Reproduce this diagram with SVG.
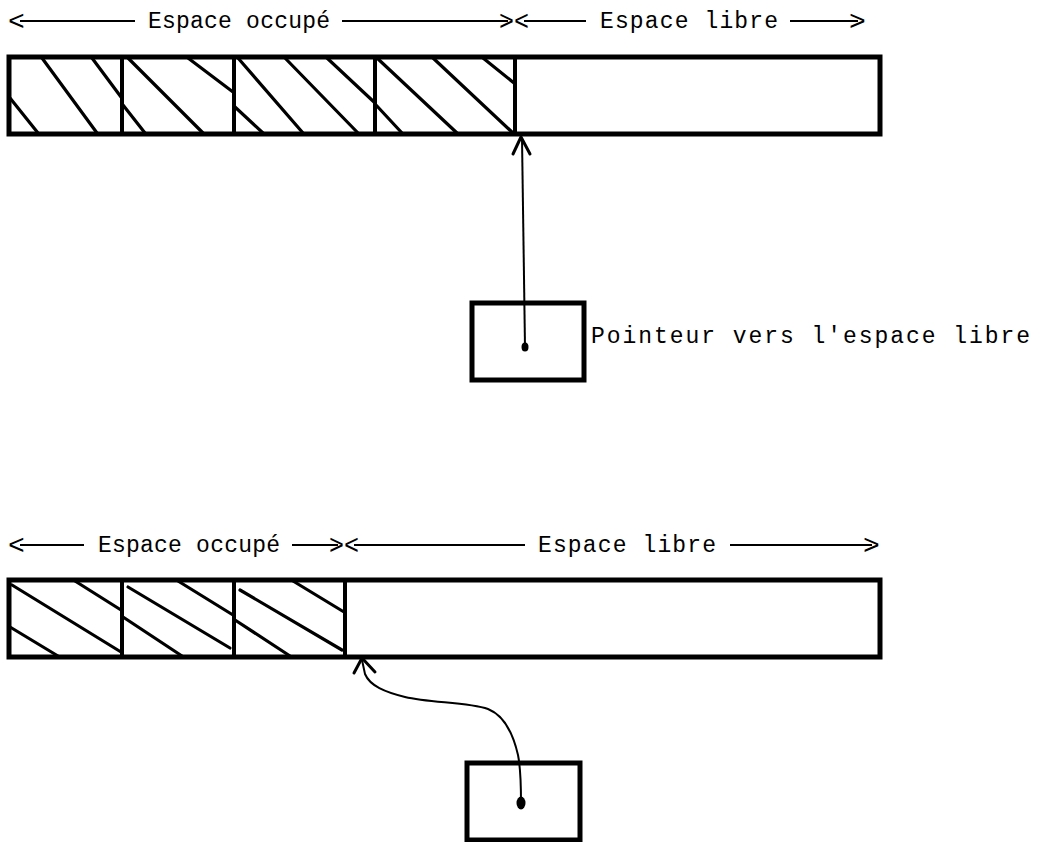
<svg xmlns="http://www.w3.org/2000/svg" width="1045" height="842" viewBox="0 0 1045 842">
<style>
.bar{fill:none;stroke:#000;stroke-width:5}
.div{stroke:#000;stroke-width:4}
.hatch{stroke:#000;stroke-width:3.2;stroke-linecap:round}
.box{fill:#fff;stroke:#000;stroke-width:5}
.lbl{font-family:"Liberation Mono","DejaVu Sans Mono",monospace;font-size:23px;fill:#000}
.chev{font-family:"Liberation Mono","DejaVu Sans Mono",monospace;font-size:28px;fill:#000}
.dash{stroke:#000;stroke-width:2}
.conn{fill:none;stroke:#000;stroke-width:2}
.head{fill:none;stroke:#000;stroke-width:3;stroke-linecap:round;stroke-linejoin:round}
</style>
<rect width="1045" height="842" fill="#fff"/>

<g id="labels-top">
  <text class="chev" x="8" y="30">&lt;</text>
  <line class="dash" x1="20" y1="21" x2="135" y2="21"/>
  <text class="lbl" x="148" y="28" textLength="182" lengthAdjust="spacing">Espace occupé</text>
  <line class="dash" x1="342" y1="21" x2="508" y2="21"/>
  <text class="chev" x="499" y="30" textLength="30" lengthAdjust="spacingAndGlyphs">&gt;&lt;</text>
  <line class="dash" x1="524" y1="21" x2="586" y2="21"/>
  <text class="lbl" x="600" y="28" textLength="178" lengthAdjust="spacing">Espace libre</text>
  <line class="dash" x1="790" y1="21" x2="858" y2="21"/>
  <text class="chev" x="849" y="30">&gt;</text>
</g>

<g id="bar-top">
  <rect class="bar" x="9" y="57" width="871" height="77"/>
  <line class="div" x1="122" y1="57" x2="122" y2="134"/>
  <line class="div" x1="234" y1="57" x2="234" y2="134"/>
  <line class="div" x1="375" y1="57" x2="375" y2="134"/>
  <line class="div" x1="515" y1="57" x2="515" y2="134"/>
  <g id="hatch-top">
    <line class="hatch" x1="42" y1="58" x2="97" y2="133"/>
    <line class="hatch" x1="92" y1="58" x2="121" y2="97"/>
    <line class="hatch" x1="10" y1="98" x2="38" y2="133"/>
    <line class="hatch" x1="128" y1="58" x2="203" y2="133"/>
    <line class="hatch" x1="188" y1="58" x2="233" y2="92"/>
    <line class="hatch" x1="123" y1="105" x2="145" y2="133"/>
    <line class="hatch" x1="238" y1="58" x2="303" y2="133"/>
    <line class="hatch" x1="285" y1="58" x2="358" y2="133"/>
    <line class="hatch" x1="327" y1="58" x2="374" y2="102"/>
    <line class="hatch" x1="235" y1="107" x2="263" y2="133"/>
    <line class="hatch" x1="377" y1="58" x2="457" y2="133"/>
    <line class="hatch" x1="433" y1="58" x2="513" y2="133"/>
    <line class="hatch" x1="483" y1="58" x2="514" y2="83"/>
    <line class="hatch" x1="376" y1="105" x2="402" y2="133"/>
  </g>
</g>

<g id="pointer-box-1">
  <rect class="box" x="472" y="303" width="112" height="77"/>
</g>
<text id="pointer-label" class="lbl" x="591" y="343" textLength="439" lengthAdjust="spacing">Pointeur vers l'espace libre</text>

<g id="labels-bottom">
  <text class="chev" x="8" y="554">&lt;</text>
  <line class="dash" x1="20" y1="545" x2="84" y2="545"/>
  <text class="lbl" x="98" y="552" textLength="182" lengthAdjust="spacing">Espace occupé</text>
  <line class="dash" x1="292" y1="545" x2="338" y2="545"/>
  <text class="chev" x="329" y="554" textLength="30" lengthAdjust="spacingAndGlyphs">&gt;&lt;</text>
  <line class="dash" x1="354" y1="545" x2="525" y2="545"/>
  <text class="lbl" x="538" y="552" textLength="178" lengthAdjust="spacing">Espace libre</text>
  <line class="dash" x1="730" y1="545" x2="872" y2="545"/>
  <text class="chev" x="863" y="554">&gt;</text>
</g>

<g id="bar-bottom">
  <rect class="bar" x="9" y="580" width="871" height="77"/>
  <line class="div" x1="122" y1="580" x2="122" y2="657"/>
  <line class="div" x1="234" y1="580" x2="234" y2="657"/>
  <line class="div" x1="345" y1="580" x2="345" y2="657"/>
  <g id="hatch-bottom">
    <line class="hatch" x1="12" y1="585" x2="121" y2="652"/>
    <line class="hatch" x1="75" y1="581" x2="121" y2="610"/>
    <line class="hatch" x1="10" y1="627" x2="58" y2="656"/>
    <line class="hatch" x1="128" y1="587" x2="230" y2="648"/>
    <line class="hatch" x1="178" y1="581" x2="233" y2="615"/>
    <line class="hatch" x1="123" y1="617" x2="182" y2="656"/>
    <line class="hatch" x1="240" y1="590" x2="342" y2="650"/>
    <line class="hatch" x1="293" y1="581" x2="344" y2="612"/>
    <line class="hatch" x1="235" y1="620" x2="290" y2="656"/>
  </g>
</g>

<g id="pointer-box-2">
  <rect class="box" x="467" y="763" width="113" height="77"/>
</g>

<g id="connectors">
  <line class="conn" x1="525" y1="347" x2="522" y2="138"/>
  <polyline class="head" points="513,154 521,137 530,154"/>
  <ellipse cx="525" cy="347" rx="3.5" ry="4.5" fill="#000"/>
  <path class="conn" stroke-width="3" d="M521,803 C521,785 521,770 518,755 C513,733 503,715 488,709 C468,702 430,703 405,697 C385,692 370,686 365,674 L362,660"/>
  <polyline class="head" points="354,673 362,658 375,672"/>
  <ellipse cx="521" cy="803" rx="4.5" ry="6.5" fill="#000"/>
</g>
</svg>
